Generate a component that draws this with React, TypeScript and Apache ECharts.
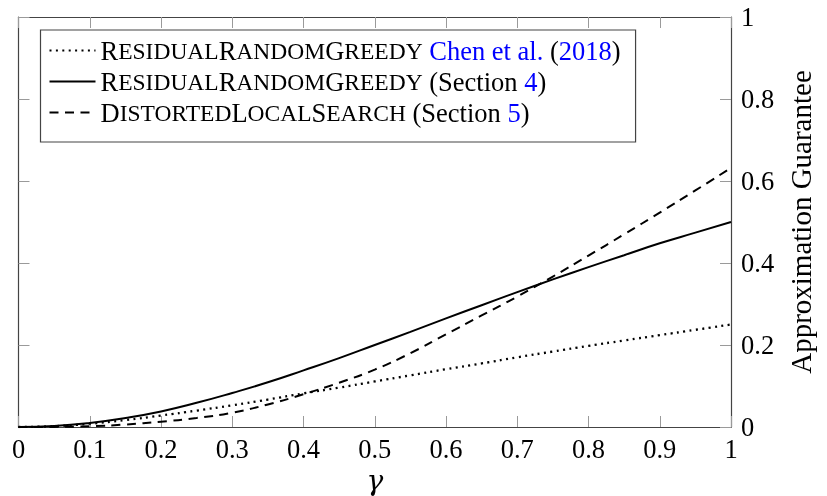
import { useEffect, useRef } from 'react';
import * as echarts from 'echarts';

const gamma = [0, 0.05, 0.1, 0.15, 0.2, 0.25, 0.3, 0.35, 0.4, 0.45, 0.5, 0.55, 0.6, 0.65, 0.7, 0.75, 0.8, 0.85, 0.9, 0.95, 1];
const chenValues = [0, 0.002, 0.008, 0.017, 0.028, 0.04, 0.053, 0.067, 0.082, 0.096, 0.111, 0.126, 0.141, 0.155, 0.17, 0.184, 0.198, 0.211, 0.224, 0.237, 0.25];
const section4Values = [0, 0.0025, 0.01, 0.022, 0.038, 0.059, 0.083, 0.109, 0.138, 0.168, 0.2, 0.232, 0.265, 0.297, 0.329, 0.36, 0.39, 0.419, 0.448, 0.474, 0.5];
const dlsValues = [0, 0.0003, 0.002, 0.006, 0.013, 0.022, 0.035, 0.055, 0.08, 0.108, 0.14, 0.18, 0.226, 0.272, 0.318, 0.367, 0.418, 0.47, 0.523, 0.577, 0.632];

const seriesNames = ['rrgChen', 'rrgSection4', 'dlsSection5'];
const legendLabels: Record<string, string> = {
  rrgChen: '{big|R}{sc|ESIDUAL}{big|R}{sc|ANDOM}{big|G}{sc|REEDY}{n| }{blue|Chen et al.}{n| (}{blue|2018}{n|)}',
  rrgSection4: '{big|R}{sc|ESIDUAL}{big|R}{sc|ANDOM}{big|G}{sc|REEDY}{n| (Section }{blue|4}{n|)}',
  dlsSection5: '{big|D}{sc|ISTORTED}{big|L}{sc|OCAL}{big|S}{sc|EARCH}{n| (Section }{blue|5}{n|)}',
};

export default function App() {
  const ref = useRef<HTMLDivElement>(null);
  useEffect(() => {
    const chart = echarts.init(ref.current!, null, { renderer: 'svg' });
    const serif = "'Liberation Serif', 'Times New Roman', serif";
    const pts = (vals: number[]) => gamma.map((g, i) => [g, vals[i]]);
    const axisLine = { show: true, onZero: false, lineStyle: { color: '#444', width: 1.2 } };
    const ticks = { show: true, inside: true, length: 11, lineStyle: { color: '#9a9a9a', width: 1 } };
    const labelStyle = { fontFamily: serif, fontSize: 26.5, color: '#000' };
    chart.setOption({
      animation: false,
      grid: { left: 18.5, right: 96, top: 17, bottom: 69, outerBoundsMode: 'none' },
      xAxis: [
        {
          type: 'value', min: 0, max: 1, interval: 0.1, position: 'bottom',
          axisLine, axisTick: ticks, splitLine: { show: false },
          axisLabel: { ...labelStyle, margin: 8 },
          name: 'γ', nameLocation: 'middle', nameGap: 28,
          nameTextStyle: { fontFamily: "'DejaVu Serif', serif", fontStyle: 'italic', fontSize: 28, color: '#000' },
        },
        {
          type: 'value', min: 0, max: 1, interval: 0.1, position: 'top',
          axisLine, axisTick: ticks, splitLine: { show: false }, axisLabel: { show: false },
        },
      ],
      yAxis: [
        {
          type: 'value', min: 0, max: 1, interval: 0.2, position: 'right',
          axisLine, axisTick: ticks, splitLine: { show: false },
          axisLabel: { ...labelStyle, margin: 10 },
          name: 'Approximation Guarantee', nameLocation: 'middle', nameRotate: 90, nameGap: 55,
          nameTextStyle: { fontFamily: serif, fontSize: 29, color: '#000' },
        },
        {
          type: 'value', min: 0, max: 1, interval: 0.2, position: 'left',
          axisLine, axisTick: ticks, splitLine: { show: false }, axisLabel: { show: false },
        },
      ],
      legend: {
        orient: 'vertical', left: 40.5, top: 30,
        itemWidth: 46, itemHeight: 14, itemGap: 4,
        padding: [7, 15, 16, 8],
        borderColor: '#444', borderWidth: 1.2, backgroundColor: '#fff',
        selectedMode: false,
        data: seriesNames,
        itemStyle: { opacity: 0 },
        formatter: (name: string) => legendLabels[name],
        textStyle: {
          fontFamily: serif, fontSize: 26.5, color: '#000',
          rich: {
            big: { fontFamily: serif, fontSize: 26.5, color: '#000' },
            sc: { fontFamily: serif, fontSize: 23.5, color: '#000' },
            n: { fontFamily: serif, fontSize: 26.5, color: '#000' },
            blue: { fontFamily: serif, fontSize: 26.5, color: '#0000ff' },
          },
        },
      },
      series: [
        {
          name: seriesNames[0], type: 'line', data: pts(chenValues), symbol: 'none', smooth: true,
          xAxisIndex: 0, yAxisIndex: 0,
          lineStyle: { color: '#000', width: 2.3, type: [2, 4.4] }, itemStyle: { color: '#000' },
        },
        {
          name: seriesNames[1], type: 'line', data: pts(section4Values), symbol: 'none', smooth: true,
          xAxisIndex: 0, yAxisIndex: 0,
          lineStyle: { color: '#000', width: 2, type: 'solid' }, itemStyle: { color: '#000' },
        },
        {
          name: seriesNames[2], type: 'line', data: pts(dlsValues), symbol: 'none', smooth: true,
          xAxisIndex: 0, yAxisIndex: 0,
          lineStyle: { color: '#000', width: 2, type: [9, 6.5] }, itemStyle: { color: '#000' },
        },
      ],
    });
    return () => chart.dispose();
  }, []);
  return <div ref={ref} style={{ position: 'fixed', left: 0, top: 0, width: 827, height: 496 }} />;
}
